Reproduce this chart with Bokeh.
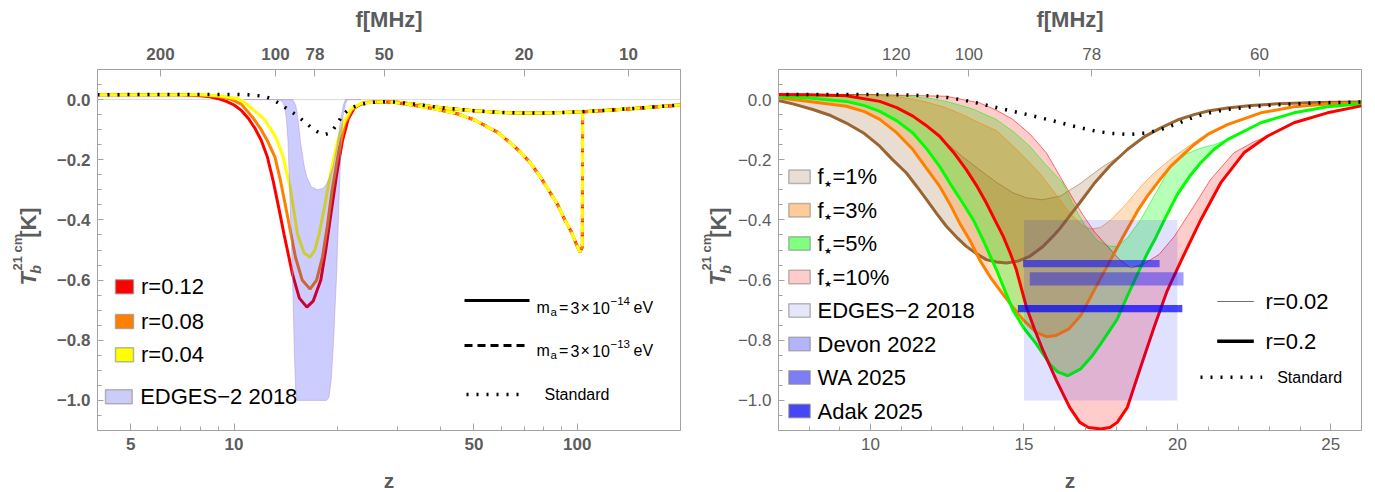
import math
from bokeh.plotting import figure
from bokeh.layouts import row, column
from bokeh.core.properties import value
from bokeh.models import Label, FixedTicker, CustomJSTickFormatter, LogAxis, LinearAxis, Span
from bokeh.embed import file_html
from bokeh.resources import INLINE

F21 = 1420.4  # MHz, rest frequency of the 21 cm line

# ================= axis ticks =================
y_major = [0.0, -0.2, -0.4, -0.6, -0.8, -1.0]
y_minor = [0.05, -0.05, -0.1, -0.15, -0.25, -0.3, -0.35, -0.45, -0.5, -0.55,
           -0.65, -0.7, -0.75, -0.85, -0.9, -0.95, -1.05]
zL_major = [5, 10, 50, 100]
zL_minor = [4, 6, 7, 8, 9, 20, 30, 40, 60, 70, 80, 90]
fL_labels = [200, 100, 78, 50, 20, 10]
zR_major = [10, 15, 20, 25]
zR_minor = [7, 8, 9, 11, 12, 13, 14, 16, 17, 18, 19, 21, 22, 23, 24, 26]
fR_labels = [120, 100, 78, 60]

# ================= left panel data =================
z_std = [4, 6, 8, 10, 11, 12, 12.5, 13, 13.5, 14, 14.6, 15.2, 16, 16.6, 17.3, 17.8, 18.4, 19.0, 19.5, 20.0,
         20.5, 21.0, 21.6, 22.5, 23.3, 24.5, 26, 28, 30, 35, 40, 50, 60, 70, 80, 90, 100, 120, 140, 170, 200]
T_std = [0.016, 0.017, 0.017, 0.017, 0.016, 0.012, 0.007, -0.001, -0.012, -0.024, -0.038, -0.052, -0.072,
         -0.088, -0.104, -0.112, -0.116, -0.111, -0.098, -0.080, -0.060, -0.045, -0.033, -0.023, -0.017,
         -0.011, -0.008, -0.007, -0.009, -0.018, -0.027, -0.037, -0.043, -0.045, -0.045, -0.043, -0.041,
         -0.036, -0.031, -0.024, -0.018]

# high-z tail shared by the m_a = 3e-14 eV curves
z_tail = [28, 30, 35, 40, 50, 60, 70, 80, 90, 100, 120, 140, 170, 200]
T_tail = [-0.007, -0.009, -0.018, -0.027, -0.037, -0.043, -0.045, -0.045, -0.043, -0.041, -0.036, -0.031,
          -0.024, -0.018]

z_r12 = [4, 6, 7, 8, 8.5, 9, 9.5, 10, 10.5, 11, 11.5, 12, 12.5, 13, 13.5, 14, 14.8, 15.5, 16.3, 17.0,
         17.9, 18.5, 19.1, 19.9, 20.7, 21.5, 22.5, 24, 26]
T_r12 = [0.016, 0.016, 0.016, 0.013, 0.009, 0.003, -0.006, -0.018, -0.036, -0.062, -0.095, -0.135, -0.19,
         -0.27, -0.36, -0.45, -0.58, -0.66, -0.69, -0.67, -0.60, -0.50, -0.39, -0.25, -0.136, -0.065,
         -0.025, -0.01, -0.008]
z_r08 = [4, 7, 8, 9, 9.7, 10.5, 11.4, 12, 12.5, 13.16, 13.6, 14.15, 15.1, 15.8, 16.65, 17.4, 18.1, 18.7,
         19.3, 20.2, 21, 22, 23.5, 26]
T_r08 = [0.016, 0.016, 0.015, 0.01, 0.003, -0.015, -0.063, -0.1, -0.136, -0.191, -0.26, -0.358, -0.524,
         -0.60, -0.63, -0.60, -0.524, -0.42, -0.302, -0.17, -0.08, -0.035, -0.012, -0.008]
z_r04 = [4, 8, 9, 10.3, 11, 12.2, 13, 13.4, 13.9, 14.63, 15.3, 16, 16.65, 17.2, 17.7, 18.4, 19.1, 20, 21,
         22, 23.5, 26]
T_r04 = [0.016, 0.016, 0.013, 0.003, -0.02, -0.063, -0.11, -0.14, -0.19, -0.302, -0.447, -0.51, -0.524,
         -0.50, -0.447, -0.35, -0.247, -0.14, -0.07, -0.03, -0.012, -0.008]

# m_a = 3e-13 eV (dashed), identical for the three r values
z_heavy = [26, 28, 30, 33.4, 38, 44.7, 50, 58.5, 64, 68.4, 73, 78.2, 83, 87.5, 92, 95.7, 99, 101.8, 103.5,
           103.7, 110, 120, 140, 170, 200]
T_heavy = [-0.008, -0.008, -0.011, -0.019, -0.03, -0.047, -0.067, -0.108, -0.145, -0.175, -0.21, -0.258,
           -0.305, -0.347, -0.40, -0.435, -0.475, -0.507, -0.49, -0.041, -0.039, -0.036, -0.031, -0.024,
           -0.018]

# EDGES-2 2018 band (left panel)
z_edl = [10.7, 13.3, 13.8, 14.0, 14.2, 14.36, 14.6, 14.8, 15.0, 15.13, 15.3, 15.64, 16.0, 16.3, 16.8, 17.5,
         18.2, 18.6, 18.9, 19.2, 19.5, 19.9, 20.2, 20.5, 20.8, 21.1, 21.4, 23.4]
T_edl_lo = [0, 0, -0.005, -0.02, -0.06, -0.136, -0.38, -0.58, -0.85, -0.97, -1.0, -1.0, -1.0, -1.0, -1.0,
            -1.0, -1.0, -1.0, -0.99, -0.93, -0.80, -0.58, -0.35, -0.15, -0.05, -0.015, 0, 0]
T_edl_hi = [0, 0, 0, 0, 0, 0, 0, 0, -0.01, -0.02, -0.05, -0.147, -0.22, -0.258, -0.29, -0.30, -0.295, -0.28,
            -0.262, -0.24, -0.215, -0.16, -0.11, -0.06, -0.02, 0, 0, 0]

# ================= right panel data =================
z_f1_thick = [7, 7.5, 8.12, 8.7, 9.21, 9.8, 10.3, 10.7, 11.17, 11.5, 11.82, 12.15, 12.47, 12.8, 13.12, 13.45,
              13.77, 14.1, 14.43, 14.8, 15.19, 15.6, 15.95, 16.2, 16.5, 16.82, 17.28, 17.8, 18.37, 18.9,
              19.46, 20.0, 20.54, 21.0, 21.63, 22.4, 23.26, 24.5, 26]
T_f1_thick = [-0.003, -0.015, -0.033, -0.053, -0.078, -0.113, -0.155, -0.198, -0.244, -0.288, -0.332,
              -0.378, -0.421, -0.457, -0.488, -0.512, -0.532, -0.54, -0.543, -0.537, -0.521, -0.49, -0.454,
              -0.425, -0.385, -0.343, -0.28, -0.22, -0.166, -0.125, -0.094, -0.068, -0.05, -0.038, -0.028,
              -0.02, -0.014, -0.01, -0.008]
z_f1_thin = [7, 8, 9.21, 10.3, 10.9, 11.38, 11.8, 12.25, 12.6, 13.0, 13.55, 14.1, 14.64, 15.1, 15.6, 16.2,
             16.82, 17.5, 18.0, 18.37, 18.8, 19.4, 20.0, 20.54, 21.0, 21.63, 22.4, 23.26, 24.5, 26]
T_f1_thin = [0.017, 0.017, 0.013, -0.006, -0.03, -0.055, -0.085, -0.122, -0.155, -0.19, -0.233, -0.275,
             -0.31, -0.327, -0.333, -0.32, -0.28, -0.228, -0.195, -0.168, -0.135, -0.097, -0.068, -0.05,
             -0.038, -0.028, -0.02, -0.014, -0.01, -0.008]

z_f3_thick = [7, 8, 9.21, 9.8, 10.3, 10.85, 11.38, 11.8, 12.25, 12.6, 12.9, 13.25, 13.55, 13.9, 14.3, 14.64,
              15.0, 15.4, 15.73, 16.05, 16.47, 16.85, 17.28, 17.72, 18.26, 18.7, 19.02, 19.4, 19.78, 20.54,
              21.0, 21.63, 22.72, 23.8, 25, 26]
T_f3_thick = [0.006, -0.006, -0.022, -0.04, -0.066, -0.11, -0.166, -0.225, -0.288, -0.35, -0.41, -0.47,
              -0.532, -0.59, -0.645, -0.69, -0.735, -0.774, -0.788, -0.784, -0.762, -0.718, -0.635, -0.552,
              -0.45, -0.37, -0.321, -0.27, -0.222, -0.15, -0.115, -0.083, -0.044, -0.024, -0.014, -0.011]
z_f3_thin = [7, 9, 10, 11, 11.7, 12.4, 13.0, 13.5, 14.1, 14.6, 15.0, 15.53, 16.0, 16.52, 16.9, 17.19, 17.5,
             17.83, 18.37, 18.8, 19.24, 19.9, 20.3, 20.8, 21.63, 22.72, 23.8, 25, 26]
T_f3_thin = [0.017, 0.017, 0.015, 0.008, -0.005, -0.025, -0.05, -0.075, -0.103, -0.15, -0.19, -0.247, -0.31,
             -0.38, -0.418, -0.43, -0.425, -0.40, -0.343, -0.29, -0.244, -0.188, -0.16, -0.125, -0.083,
             -0.044, -0.024, -0.014, -0.011]

z_f5_thick = [7, 8, 9.21, 9.8, 10.3, 10.85, 11.38, 11.8, 12.25, 12.6, 13.0, 13.35, 13.66, 14.1, 14.64, 15.0,
              15.4, 15.84, 16.1, 16.43, 16.85, 17.2, 17.5, 18.04, 18.36, 18.7, 19.0, 19.29, 19.6, 20.0, 20.4,
              20.76, 21.2, 21.63, 22.72, 23.8, 24.89, 26]
T_f5_thick = [0.011, 0.005, -0.006, -0.02, -0.039, -0.07, -0.111, -0.16, -0.222, -0.28, -0.343, -0.40,
              -0.465, -0.565, -0.70, -0.76, -0.812, -0.879, -0.905, -0.918, -0.895, -0.855, -0.812, -0.73,
              -0.655, -0.58, -0.515, -0.46, -0.395, -0.315, -0.255, -0.21, -0.165, -0.133, -0.077, -0.044,
              -0.024, -0.014]
z_f5_thin = [7, 10, 11, 12, 12.47, 13.3, 14.1, 14.7, 15.19, 15.7, 16.27, 16.6, 17.0, 17.4, 17.8, 18.05,
             18.37, 18.8, 19.3, 19.78, 20.3, 20.8, 21.2, 21.63, 22.72, 23.8, 24.89, 26]
T_f5_thin = [0.017, 0.017, 0.013, 0.003, -0.006, -0.03, -0.066, -0.11, -0.155, -0.215, -0.277, -0.35, -0.42,
             -0.47, -0.488, -0.488, -0.46, -0.40, -0.31, -0.222, -0.18, -0.16, -0.15, -0.133, -0.077, -0.044,
             -0.024, -0.014]

z_f10_thick = [7, 8, 9.21, 10.3, 10.85, 11.38, 11.8, 12.25, 12.7, 13.12, 13.45, 13.77, 14.05, 14.32, 14.55,
               14.75, 15.08, 15.35, 15.62, 16.06, 16.49, 16.82, 17.1, 17.5, 17.8, 18.04, 18.37, 18.8, 19.24,
               19.67, 20.1, 20.76, 21.41, 22.17, 22.93, 23.8, 24.89, 26]
T_f10_thick = [0.017, 0.016, 0.013, -0.006, -0.027, -0.055, -0.085, -0.122, -0.175, -0.233, -0.285, -0.343,
               -0.40, -0.454, -0.51, -0.565, -0.69, -0.765, -0.834, -0.934, -1.023, -1.073, -1.09, -1.095,
               -1.09, -1.073, -1.023, -0.89, -0.757, -0.635, -0.54, -0.40, -0.277, -0.177, -0.122, -0.077,
               -0.044, -0.021]
z_f10_thin = [7, 10, 12.47, 13.0, 13.55, 14.1, 14.64, 15.2, 15.73, 16.2, 16.6, 16.9, 17.3, 17.83, 18.1,
              18.48, 18.91, 19.4, 19.9, 20.5, 21.08, 21.84, 22.5, 22.93, 23.8, 24.89, 26]
T_f10_thin = [0.017, 0.017, 0.011, 0.0, -0.011, -0.035, -0.066, -0.115, -0.177, -0.26, -0.33, -0.38, -0.44,
              -0.50, -0.53, -0.56, -0.546, -0.515, -0.455, -0.36, -0.266, -0.177, -0.14, -0.122, -0.077,
              -0.044, -0.021]

obs_labels = ["EDGES\u22122 2018", "Devon 2022", "WA 2025", "Adak 2025"]
obs_zmin = [15.0, 15.19, 14.97, 14.8]
obs_zmax = [20.0, 20.2, 19.42, 20.16]
obs_Tlo = [-1.0, -0.618, -0.557, -0.707]
obs_Thi = [-0.4, -0.574, -0.533, -0.683]

r_left_labels = ["r=0.12", "r=0.08", "r=0.04"]
fstar_labels = ["=1%", "=3%", "=5%", "=10%"]

# ================= styling / layout =================
FONT = "Liberation Sans"
FRAME = "#a3a3a3"
TICKC = "#5c5c5c"
RED, ORANGE, YELLOW = "#ff0000", "#ff8000", "#ffff00"
BROWN, GREEN = "#996633", "#00ff00"

W, H = 1375, 492
H_TOP, H_BOT = 35, 26
H_MAIN = H - H_TOP - H_BOT          # 431
L_X0, L_X1, R_X0, R_X1 = 97, 680, 778, 1361
TOP, BOT = 69, 430
SL_W = 48             # left y-label strip  (0 .. 48)
SR_X, SR_W = 688, 44  # right y-label strip (688 .. 732)


def lz(px):
    return 4.0 * 50.0 ** ((px - L_X0) / (L_X1 - L_X0))


def rz(px):
    return 7.0 + (px - R_X0) / (R_X1 - R_X0) * 19.0


def ty(py):
    return 0.1 - (py - TOP) / (BOT - TOP) * 1.2


def put(fig, conv, px, py, text, size, color="black", style="normal", align="left",
        baseline="middle", angle=0.0):
    fig.add_layout(Label(x=conv(px), y=ty(py), text=text, text_font=FONT,
                         text_font_size=f"{size}px", text_color=color, text_font_style=style,
                         text_align=align, text_baseline=baseline, angle=angle))


def make_fig(width, xtype, xr, bl, br):
    p = figure(width=width, height=H_MAIN, x_axis_type=xtype, x_range=xr, y_range=(-1.1, 0.1),
               output_backend="svg", toolbar_location=None, title=None,
               min_border_left=bl, min_border_right=br,
               min_border_top=TOP - H_TOP, min_border_bottom=(H_TOP + H_MAIN) - BOT)
    p.xgrid.visible = False
    p.ygrid.visible = False
    p.outline_line_color = FRAME
    p.outline_line_width = 1
    p.background_fill_color = "white"
    p.border_fill_color = "white"
    return p


def canvas(width, height):
    s = figure(width=width, height=height, x_range=(0, width), y_range=(0, height), output_backend="svg",
               toolbar_location=None, title=None, min_border=0, x_axis_location=None, y_axis_location=None)
    s.outline_line_color = None
    s.background_fill_color = "white"
    s.border_fill_color = "white"
    for g in s.grid:
        g.visible = False
    return s


def stext(s, height, x, ytop, text, size, style, align="center", baseline="middle", angle=0.0):
    s.text(x=[x], y=[height - ytop], text=[text], angle=angle, text_font=value(FONT),
           text_font_size=value(f"{size}px"), text_font_style=style, text_color=TICKC,
           text_align=align, text_baseline=baseline)


def style_axis(ax, bold, tick_in=7, standoff=7):
    ax.axis_line_color = FRAME
    ax.major_tick_line_color = FRAME
    ax.minor_tick_line_color = FRAME
    ax.major_tick_in = tick_in
    ax.major_tick_out = 0
    ax.minor_tick_in = 4
    ax.minor_tick_out = 0
    ax.major_label_text_font = FONT
    ax.major_label_text_font_size = "17px"
    ax.major_label_text_font_style = "bold" if bold else "normal"
    ax.major_label_text_color = TICKC
    ax.major_label_standoff = standoff


YFMT = "return Math.abs(tick) < 1e-9 ? '0.0' : (tick < 0 ? '\u2212' : '') + Math.abs(tick).toFixed(1);"
NEAREST = """
let best = 0, d = Infinity;
for (let i = 0; i < zs.length; i++) { const e = Math.abs(zs[i] - tick); if (e < d) { d = e; best = i; } }
return labs[best];
"""


def ylabel_strip(width, cx):
    """Narrow figure that carries the rotated T_b^{21 cm}[K] label; cx = centre column of 'T'."""
    s = canvas(width, H_MAIN)
    a = math.pi / 2
    pieces = [  # (x centre, y start from page top, text, size, style)
        (cx, 293, "T", 22, "bold italic"),
        (cx + 8, 279, "b", 14, "bold italic"),
        (cx - 11, 275, "21 cm", 13, "bold"),
        (cx + 0.5, 236, "[K]", 22, "bold"),
    ]
    for x, ytop, t, size, style in pieces:
        stext(s, H_MAIN, x, ytop - H_TOP, t, size, style, align="left", baseline="middle", angle=a)
    return s


# ================= LEFT PANEL =================
p1 = make_fig(688 - SL_W, "log", (4, 200), L_X0 - SL_W, 688 - L_X1)
style_axis(p1.left[0], True, 6)
p1.left[0].ticker = FixedTicker(ticks=y_major, minor_ticks=y_minor)
p1.left[0].formatter = CustomJSTickFormatter(code=YFMT)
style_axis(p1.below[0], True)
p1.below[0].ticker = FixedTicker(ticks=zL_major, minor_ticks=zL_minor)
p1.below[0].formatter = CustomJSTickFormatter(code="return String(Math.round(tick));")
zf_left = [F21 / f - 1 for f in fL_labels]
top1 = LogAxis(ticker=FixedTicker(ticks=zf_left, minor_ticks=[]),
               formatter=CustomJSTickFormatter(args=dict(zs=zf_left, labs=[str(f) for f in fL_labels]),
                                               code=NEAREST))
style_axis(top1, True, standoff=10)
p1.add_layout(top1, "above")

p1.add_layout(Span(location=0, dimension="width", line_color="#dadada", line_width=1, level="underlay"))

for zz, TT, col in [(z_r12, T_r12, RED), (z_r08, T_r08, ORANGE), (z_r04, T_r04, YELLOW)]:
    p1.line(zz + z_tail, TT + T_tail, line_color=col, line_width=3)
for col, off in [(RED, 7), (ORANGE, 3), (YELLOW, 0)]:
    p1.line(z_heavy, T_heavy, line_color=col, line_width=3, line_dash="10 4", line_dash_offset=off)

p1.varea(x=z_edl, y1=T_edl_lo, y2=T_edl_hi, fill_color="#0000ff", fill_alpha=0.2)
p1.line(z_edl, T_edl_lo, line_color="#b496d2", line_alpha=0.5, line_width=1)
p1.line(z_edl, T_edl_hi, line_color="#b496d2", line_alpha=0.5, line_width=1)

p1.line(z_std, T_std, line_color="black", line_width=3.5, line_dash="2 8", line_cap="butt")

# colour legend (left)
left_rows = [286.3, 321, 354.3]
for yy, col, txt in zip(left_rows, [RED, ORANGE, YELLOW], r_left_labels):
    p1.quad(left=lz(115), right=lz(133), top=ty(yy - 7), bottom=ty(yy + 7), fill_color=col,
            line_color="#8c8c8c", line_alpha=0.6, line_width=1.5)
    put(p1, lz, 140.5, yy, txt, 22)
p1.quad(left=lz(105), right=lz(131.7), top=ty(389.3), bottom=ty(403.3), fill_color="#ccccf8",
        line_color="#8c8c8c", line_alpha=0.6, line_width=1.5)
put(p1, lz, 139.7, 396.3, obs_labels[0], 22)

# line-style legend (left)
p1.line([lz(464), lz(529)], [ty(300), ty(300)], line_color="black", line_width=3)
p1.line([lz(464), lz(529)], [ty(345), ty(345)], line_color="black", line_width=3, line_dash="8 5")
p1.line([lz(466), lz(526)], [ty(394), ty(394)], line_color="black", line_width=3.5, line_dash="2 8",
        line_cap="butt")
for base, expo in [(307, "\u221214"), (350, "\u221213")]:
    put(p1, lz, 536, base, "m", 16, baseline="alphabetic")
    put(p1, lz, 550, base + 4, "a", 11.5, baseline="alphabetic")
    put(p1, lz, 558.5, base, "=", 16, baseline="alphabetic")
    put(p1, lz, 570, base, "3", 16, baseline="alphabetic")
    put(p1, lz, 580, base, "\u00d7", 16, baseline="alphabetic")
    put(p1, lz, 591.5, base, "10", 16, baseline="alphabetic")
    put(p1, lz, 610, base - 7, expo, 11.5, baseline="alphabetic")
    put(p1, lz, 633, base, "eV", 16, baseline="alphabetic")
put(p1, lz, 544, 394, "Standard", 16)

# ================= RIGHT PANEL =================
P2_X = SR_X + SR_W  # 732
p2 = make_fig(W - P2_X, "linear", (7, 26), R_X0 - P2_X, W - R_X1)
style_axis(p2.left[0], False, 6)
p2.left[0].ticker = FixedTicker(ticks=y_major, minor_ticks=y_minor)
p2.left[0].formatter = CustomJSTickFormatter(code=YFMT)
style_axis(p2.below[0], False)
p2.below[0].ticker = FixedTicker(ticks=zR_major, minor_ticks=zR_minor)
p2.below[0].formatter = CustomJSTickFormatter(code="return String(Math.round(tick));")
zf_right = [F21 / f - 1 for f in fR_labels]
top2 = LinearAxis(ticker=FixedTicker(ticks=zf_right, minor_ticks=[]),
                  formatter=CustomJSTickFormatter(args=dict(zs=zf_right, labs=[str(f) for f in fR_labels]),
                                                  code=NEAREST))
style_axis(top2, False, standoff=10)
p2.add_layout(top2, "above")

bands = [
    (z_f1_thick, T_f1_thick, z_f1_thin, T_f1_thin, BROWN, 0.22),
    (z_f3_thick, T_f3_thick, z_f3_thin, T_f3_thin, ORANGE, 0.25),
    (z_f5_thick, T_f5_thick, z_f5_thin, T_f5_thin, GREEN, 0.28),
    (z_f10_thick, T_f10_thick, z_f10_thin, T_f10_thin, RED, 0.2),
]
for zt, Tt, zn, Tn, col, a in bands:
    p2.patch(list(zt) + list(reversed(zn)), list(Tt) + list(reversed(Tn)), fill_color=col, fill_alpha=a,
             line_color=None)
for zt, Tt, zn, Tn, col, a in bands:
    p2.line(zn, Tn, line_color=col, line_width=1, line_alpha=0.55)
for zt, Tt, zn, Tn, col, a in bands:
    p2.line(zt, Tt, line_color=col, line_width=3)
p2.line(z_std, T_std, line_color="black", line_width=3.5, line_dash="2 8", line_cap="butt")
p2.quad(left=obs_zmin, right=obs_zmax, bottom=obs_Tlo, top=obs_Thi, fill_color="#0000ff",
        fill_alpha=[0.12, 0.38, 0.55, 0.72], line_color=None)

# legend (right)
right_rows = [176.3, 209.7, 243, 276.5, 310, 343.5, 377, 410.5]
swatches = ["#e8ded5", "#ffcc99", "#80ff80", "#ffcccc", "#e6e6fa", "#b4b4fa", "#7d7df5", "#4646f5"]
for i, (yy, sc) in enumerate(zip(right_rows, swatches)):
    p2.quad(left=rz(788.3), right=rz(809.7), top=ty(yy - 6.7), bottom=ty(yy + 6.7), fill_color=sc,
            line_color="#8c8c8c", line_alpha=0.6, line_width=1.5)
    if i < 4:
        put(p2, rz, 817, yy, "f", 22)
        put(p2, rz, 827.5, yy + 7, "\u2605", 9, align="center")
        put(p2, rz, 832, yy, fstar_labels[i], 22)
    else:
        put(p2, rz, 817, yy, obs_labels[i - 4], 22)

p2.line([rz(1216.7), rz(1253.3)], [ty(301), ty(301)], line_color="black", line_width=0.8, line_alpha=0.7)
p2.line([rz(1216.7), rz(1253.3)], [ty(340.7), ty(340.7)], line_color="black", line_width=3.5)
p2.line([rz(1200), rz(1261.7)], [ty(376.7), ty(376.7)], line_color="black", line_width=3.5,
        line_dash="2 8", line_cap="butt")
put(p2, rz, 1265, 301, "r=0.02", 22)
put(p2, rz, 1265, 340.7, "r=0.2", 22)
put(p2, rz, 1276.7, 376.7, "Standard", 16)

# ================= titles and y labels =================
top_strip = canvas(W, H_TOP)
bot_strip = canvas(W, H_BOT)
for cx in [(L_X0 + L_X1) / 2, (R_X0 + R_X1) / 2]:
    stext(top_strip, H_TOP, cx, 19, "f[MHz]", 22, "bold")
    stext(bot_strip, H_BOT, cx, 480 - (H_TOP + H_MAIN), "z", 21, "bold")

yl1 = ylabel_strip(SL_W, 27.5)
yl2 = ylabel_strip(SR_W, 29)

layout = column(top_strip, row(yl1, p1, yl2, p2), bot_strip)
with open("out.html", "w", encoding="utf-8") as fh:
    fh.write(file_html(layout, INLINE))
